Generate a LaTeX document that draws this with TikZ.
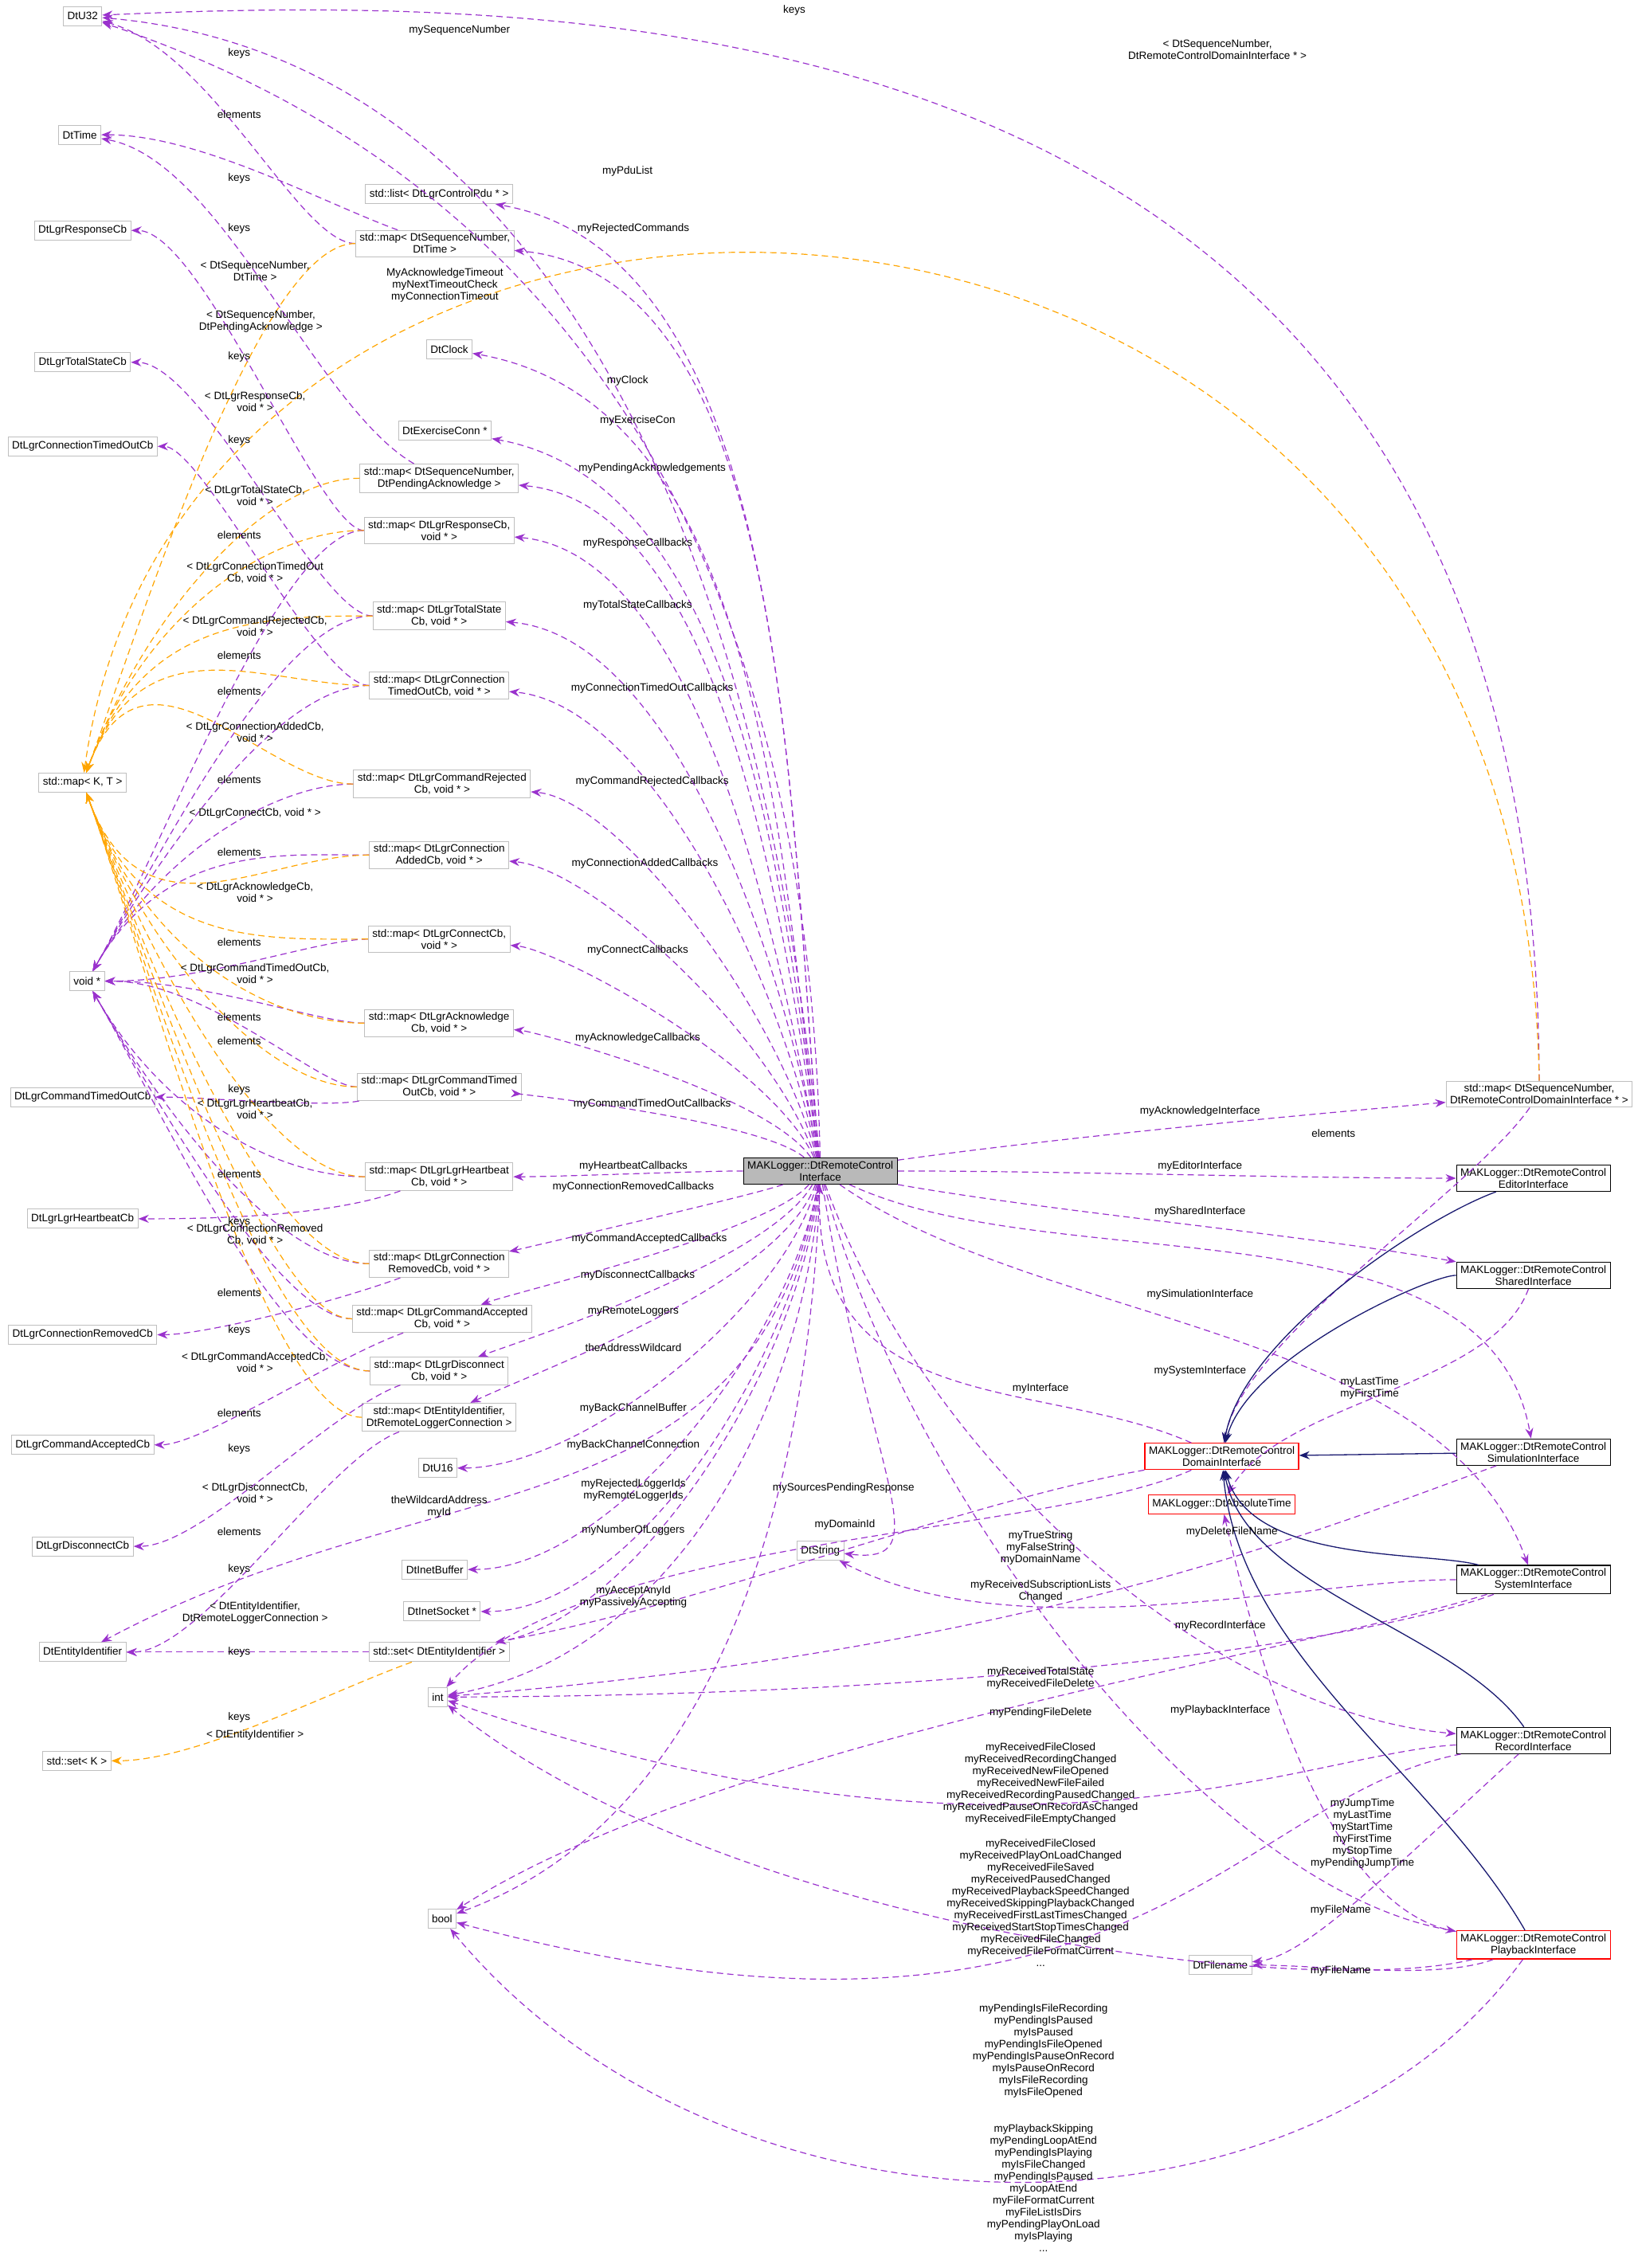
\documentclass[tikz,border=0pt]{standalone}
\usepackage{fontspec}
\setmainfont{Liberation Sans}
\usetikzlibrary{arrows.meta}
\definecolor{pur}{HTML}{9A32CD}
\definecolor{org}{HTML}{FFA500}
\definecolor{nav}{HTML}{191970}
\definecolor{bx}{HTML}{BFBFBF}
\begin{document}
\begin{tikzpicture}[x=1.82pt,y=-1.82pt,
  every node/.style={font=\fontsize{13.5}{15}\selectfont},
  box/.style={draw=bx,line width=1pt,fill=white,align=center,inner xsep=5pt,inner ysep=4pt,minimum height=24pt},
  bbox/.style={box,draw=black,line width=1.3pt},
  rbox/.style={box,draw=red,line width=1.3pt},
  lab/.style={align=center,inner sep=0pt},
  ct/.style n args={3}{to path={.. controls ([shift={(#1:#3pt)}]\tikztostart) and ([shift={(#2:#3pt)}]\tikztotarget) .. (\tikztotarget)}},
  dep/.style={draw=pur,dashed,dash pattern=on 8pt off 5pt,line width=1.2pt,-{Stealth[length=13pt,width=10pt]}},
  tmpl/.style={draw=org,dashed,dash pattern=on 8pt off 5pt,line width=1.2pt,-{Stealth[length=13pt,width=10pt]}},
  inh/.style={draw=nav,line width=1.3pt,-{Stealth[length=13pt,width=10pt]}}]
\useasboundingbox (0,0) rectangle (1130,1565);
% left column
\node[box] (U32) at (57,11) {DtU32};
\node[box] (Time) at (55,93) {DtTime};
\node[box] (RespCb) at (57,159) {DtLgrResponseCb};
\node[box] (TotCb) at (57,250) {DtLgrTotalStateCb};
\node[box] (CTOCb) at (57,308) {DtLgrConnectionTimedOutCb};
\node[box] (KT) at (57,540) {std::map< K, T >};
\node[box] (void) at (60,677) {void *};
\node[box] (CmdTOCb) at (57,757) {DtLgrCommandTimedOutCb};
\node[box] (HBCb) at (57,841) {DtLgrLgrHeartbeatCb};
\node[box] (CRemCb) at (57,921) {DtLgrConnectionRemovedCb};
\node[box] (CAccCb) at (57,997) {DtLgrCommandAcceptedCb};
\node[box] (DiscCb) at (57,1067) {DtLgrDisconnectCb};
\node[box] (EId) at (57,1140) {DtEntityIdentifier};
\node[box] (SetK) at (53,1215) {std::set< K >};
% middle column
\node[box] (list) at (303,134) {std::list< DtLgrControlPdu * >};
\node[box] (mST) at (300,168) {std::map< DtSequenceNumber,\\DtTime >};
\node[box] (Clock) at (310,241) {DtClock};
\node[box] (Exc) at (307,297) {DtExerciseConn *};
\node[box] (mPA) at (303,330) {std::map< DtSequenceNumber,\\DtPendingAcknowledge >};
\node[box] (mResp) at (303,366) {std::map< DtLgrResponseCb,\\void * >};
\node[box] (mTot) at (303,425) {std::map< DtLgrTotalState\\Cb, void * >};
\node[box] (mCTO) at (303,473) {std::map< DtLgrConnection\\TimedOutCb, void * >};
\node[box] (mRej) at (305,541) {std::map< DtLgrCommandRejected\\Cb, void * >};
\node[box] (mAdd) at (303,590) {std::map< DtLgrConnection\\AddedCb, void * >};
\node[box] (mConn) at (303,648) {std::map< DtLgrConnectCb,\\void * >};
\node[box] (mAck) at (303,706) {std::map< DtLgrAcknowledge\\Cb, void * >};
\node[box] (mCmdTO) at (303,750) {std::map< DtLgrCommandTimed\\OutCb, void * >};
\node[box] (mHB) at (303,812) {std::map< DtLgrLgrHeartbeat\\Cb, void * >};
\node[box] (mRem) at (303,872) {std::map< DtLgrConnection\\RemovedCb, void * >};
\node[box] (mAcc) at (305,910) {std::map< DtLgrCommandAccepted\\Cb, void * >};
\node[box] (mDisc) at (303,946) {std::map< DtLgrDisconnect\\Cb, void * >};
\node[box] (mEId) at (303,978) {std::map< DtEntityIdentifier,\\DtRemoteLoggerConnection >};
\node[box] (U16) at (302,1013) {DtU16};
\node[box] (Buf) at (300,1083) {DtInetBuffer};
\node[box] (Sock) at (305,1112) {DtInetSocket *};
\node[box] (sEId) at (303,1140) {std::set< DtEntityIdentifier >};
\node[box] (int) at (302,1171) {int};
\node[box] (bool) at (305,1324) {bool};
\node[box] (Str) at (566,1070) {DtString};
\node[box] (Fn) at (842,1356) {DtFilename};
% center/right
\node[box,draw=black,fill=gray!55,line width=1.3pt] (I) at (566,808) {MAKLogger::DtRemoteControl\\Interface};
\node[box] (mSD) at (1062,755) {std::map< DtSequenceNumber,\\DtRemoteControlDomainInterface * >};
\node[bbox] (Ed) at (1058,813) {MAKLogger::DtRemoteControl\\EditorInterface};
\node[bbox] (Sh) at (1058,880) {MAKLogger::DtRemoteControl\\SharedInterface};
\node[bbox] (Sim) at (1058,1002) {MAKLogger::DtRemoteControl\\SimulationInterface};
\node[bbox] (Sys) at (1058,1090) {MAKLogger::DtRemoteControl\\SystemInterface};
\node[bbox] (Rec) at (1058,1201) {MAKLogger::DtRemoteControl\\RecordInterface};
\node[rbox] (Pb) at (1058,1342) {MAKLogger::DtRemoteControl\\PlaybackInterface};
\node[rbox] (Dom) at (843,1005) {MAKLogger::DtRemoteControl\\DomainInterface};
\node[rbox] (Abs) at (843,1038) {MAKLogger::DtAbsoluteTime};

% --- edges from I to middle column
\draw[dep] (I) to[ct={95}{-5}{650}] (U32);
\draw[dep] (I) .. controls (560,500) and (470,150) .. (U32);
\draw[dep] (I) to[ct={95}{-10}{450}] (list);
\draw[dep] (I) to[ct={95}{-5}{450}] (mST);
\draw[dep] (I) to[ct={97}{-10}{400}] (Clock);
\draw[dep] (I) to[ct={97}{-10}{370}] (Exc);
\draw[dep] (I) to[ct={98}{-5}{350}] (mPA);
\draw[dep] (I) to[ct={100}{-5}{320}] (mResp);
\draw[dep] (I) to[ct={100}{-5}{290}] (mTot);
\draw[dep] (I) to[ct={102}{-5}{260}] (mCTO);
\draw[dep] (I) to[ct={105}{-5}{220}] (mRej);
\draw[dep] (I) to[ct={110}{-5}{190}] (mAdd);
\draw[dep] (I) to[ct={115}{-5}{150}] (mConn);
\draw[dep] (I) to[ct={125}{-5}{120}] (mAck);
\draw[dep] (I) to[ct={140}{-5}{100}] (mCmdTO);
\draw[dep] (I) to[ct={180}{0}{150}] (mHB);
\draw[dep] (I) to[ct={200}{10}{90}] (mRem);
\draw[dep] (I) to[ct={230}{20}{100}] (mAcc);
\draw[dep] (I) to[ct={240}{20}{130}] (mDisc);
\draw[dep] (I) to[ct={250}{25}{150}] (mEId);
\draw[dep] (I) to[ct={255}{0}{180}] (U16);
\draw[dep] (I) to[ct={260}{0}{220}] (Buf);
\draw[dep] (I) to[ct={262}{0}{240}] (Sock);
\draw[dep] (I) to[ct={264}{10}{250}] (sEId);
\draw[dep] (I) to[ct={266}{10}{300}] (int);
\draw[dep] (I) to[ct={268}{20}{380}] (bool);
\draw[dep] (I) .. controls (520,1060) and (300,1010) .. (EId);
\draw[dep] (I) .. controls (600,1020) and (650,1080) .. (Str);
\draw[dep] (Dom) .. controls (720,950) and (560,980) .. (I);
% --- right side
\draw[dep] (I) to[ct={8}{185}{300}] (mSD);
\draw[dep] (I) to[ct={0}{180}{300}] (Ed);
\draw[dep] (I) to[ct={-10}{170}{300}] (Sh);
\draw[dep] (I) to[ct={-25}{100}{330}] (Sim);
\draw[dep] (I) to[ct={-35}{110}{340}] (Sys);
\draw[dep] (I) to[ct={-70}{175}{400}] (Rec);
\draw[dep] (I) to[ct={-75}{170}{420}] (Pb);
\draw[dep] (mSD) to[ct={235}{80}{150}] (Dom);
\draw[dep] (mSD.north) .. controls (1060,0) and (420,-5) .. (U32);
\draw[tmpl] (mSD.north) .. controls (1050,30) and (130,20) .. (KT);
\draw[dep] (Sh) to[ct={250}{60}{150}] (Abs);
\draw[dep] (Pb) .. controls (930,1320) and (880,1200) .. (Abs);
\draw[dep] (Dom) to[ct={190}{10}{330}] (sEId);
\draw[dep] (Dom) .. controls (720,1060) and (400,1060) .. (int);
\draw[dep] (Sim) .. controls (900,1060) and (700,1140) .. (int);
\draw[dep] (Sys) .. controls (900,1090) and (700,1140) .. (Str);
\draw[dep] (Sys) .. controls (950,1130) and (700,1170) .. (int);
\draw[dep] (Sys) .. controls (900,1140) and (500,1200) .. (bool);
\draw[dep] (Rec) .. controls (900,1210) and (700,1310) .. (int);
\draw[dep] (Pb) .. controls (900,1380) and (500,1330) .. (int);
\draw[dep] (Rec) .. controls (850,1240) and (780,1450) .. (bool);
\draw[dep] (Pb) .. controls (900,1560) and (500,1560) .. (bool);
\draw[dep] (Rec) .. controls (950,1300) and (900,1350) .. (Fn);
\draw[dep] (Pb) to[ct={200}{0}{130}] (Fn);
% inheritance
\draw[inh] (Ed) to[ct={200}{80}{150}] (Dom);
\draw[inh] (Sh) to[ct={180}{75}{130}] (Dom);
\draw[inh] (Sim) -- (Dom);
\draw[inh] (Sys) to[ct={165}{-75}{140}] (Dom);
\draw[inh] (Rec) to[ct={125}{-80}{170}] (Dom);
\draw[inh] (Pb) to[ct={120}{-85}{250}] (Dom);
% --- middle maps to left column
\draw[dep] (mST) to[ct={180}{-15}{170}] (U32);
\draw[dep] (mST) to[ct={160}{0}{150}] (Time);
\draw[dep] (mPA) to[ct={150}{-10}{180}] (Time);
\draw[dep] (mResp) to[ct={180}{0}{150}] (RespCb);
\draw[dep] (mTot) to[ct={180}{0}{150}] (TotCb);
\draw[dep] (mCTO) to[ct={180}{0}{150}] (CTOCb);
\foreach \m in {mResp,mTot,mCTO,mRej,mAdd}{\draw[dep] (\m) to[ct={180}{60}{200}] (void);}
\foreach \m in {mConn,mAck,mCmdTO}{\draw[dep] (\m) to[ct={180}{0}{150}] (void);}
\foreach \m in {mHB,mRem,mAcc,mDisc}{\draw[dep] (\m) to[ct={180}{-60}{200}] (void);}
\draw[dep] (mCmdTO) to[ct={190}{0}{150}] (CmdTOCb);
\draw[dep] (mHB) to[ct={200}{0}{150}] (HBCb);
\draw[dep] (mRem) to[ct={200}{0}{150}] (CRemCb);
\draw[dep] (mAcc) to[ct={200}{0}{150}] (CAccCb);
\draw[dep] (mDisc) to[ct={200}{0}{150}] (DiscCb);
\draw[dep] (mEId) to[ct={200}{0}{150}] (EId);
\draw[dep] (sEId) to[ct={180}{0}{150}] (EId);
\foreach \m in {mST,mPA,mResp,mTot,mCTO,mRej}{\draw[tmpl] (\m) to[ct={180}{70}{220}] (KT);}
\foreach \m in {mAdd,mConn,mAck,mCmdTO,mHB,mRem,mAcc,mDisc,mEId}{\draw[tmpl] (\m) to[ct={180}{-70}{220}] (KT);}
\draw[tmpl] (sEId) to[ct={200}{0}{150}] (SetK);

% --- labels
\node[lab] at (548,7) {keys};
\node[lab] at (317,21) {mySequenceNumber};
\node[lab] at (840,34) {< DtSequenceNumber,\\DtRemoteControlDomainInterface * >};
\node[lab] at (165,37) {keys};
\node[lab] at (165,79) {elements};
\node[lab] at (165,123) {keys};
\node[lab] at (433,118) {myPduList};
\node[lab] at (437,158) {myRejectedCommands};
\node[lab] at (165,158) {keys};
\node[lab] at (176,187) {< DtSequenceNumber,\\DtTime >};
\node[lab] at (307,197) {MyAcknowledgeTimeout\\myNextTimeoutCheck\\myConnectionTimeout};
\node[lab] at (180,222) {< DtSequenceNumber,\\DtPendingAcknowledge >};
\node[lab] at (165,246) {keys};
\node[lab] at (433,263) {myClock};
\node[lab] at (176,277) {< DtLgrResponseCb,\\void * >};
\node[lab] at (440,290) {myExerciseCon};
\node[lab] at (165,304) {keys};
\node[lab] at (450,323) {myPendingAcknowledgements};
\node[lab] at (176,342) {< DtLgrTotalStateCb,\\void * >};
\node[lab] at (165,369) {elements};
\node[lab] at (440,375) {myResponseCallbacks};
\node[lab] at (176,395) {< DtLgrConnectionTimedOut\\Cb, void * >};
\node[lab] at (440,418) {myTotalStateCallbacks};
\node[lab] at (176,432) {< DtLgrCommandRejectedCb,\\void * >};
\node[lab] at (165,452) {elements};
\node[lab] at (450,475) {myConnectionTimedOutCallbacks};
\node[lab] at (165,477) {elements};
\node[lab] at (176,505) {< DtLgrConnectionAddedCb,\\void * >};
\node[lab] at (450,539) {myCommandRejectedCallbacks};
\node[lab] at (165,538) {elements};
\node[lab] at (176,561) {< DtLgrConnectCb, void * >};
\node[lab] at (165,588) {elements};
\node[lab] at (445,596) {myConnectionAddedCallbacks};
\node[lab] at (176,616) {< DtLgrAcknowledgeCb,\\void * >};
\node[lab] at (165,650) {elements};
\node[lab] at (440,656) {myConnectCallbacks};
\node[lab] at (176,672) {< DtLgrCommandTimedOutCb,\\void * >};
\node[lab] at (165,702) {elements};
\node[lab] at (440,716) {myAcknowledgeCallbacks};
\node[lab] at (165,718) {elements};
\node[lab] at (165,752) {keys};
\node[lab] at (450,762) {myCommandTimedOutCallbacks};
\node[lab] at (176,765) {< DtLgrLgrHeartbeatCb,\\void * >};
\node[lab] at (437,805) {myHeartbeatCallbacks};
\node[lab] at (165,810) {elements};
\node[lab] at (437,819) {myConnectionRemovedCallbacks};
\node[lab] at (165,843) {keys};
\node[lab] at (176,852) {< DtLgrConnectionRemoved\\Cb, void * >};
\node[lab] at (448,855) {myCommandAcceptedCallbacks};
\node[lab] at (440,880) {myDisconnectCallbacks};
\node[lab] at (165,892) {elements};
\node[lab] at (437,905) {myRemoteLoggers};
\node[lab] at (165,918) {keys};
\node[lab] at (437,930) {theAddressWildcard};
\node[lab] at (176,940) {< DtLgrCommandAcceptedCb,\\void * >};
\node[lab] at (437,972) {myBackChannelBuffer};
\node[lab] at (165,975) {elements};
\node[lab] at (437,997) {myBackChannelConnection};
\node[lab] at (165,1000) {keys};
\node[lab] at (176,1030) {< DtLgrDisconnectCb,\\void * >};
\node[lab] at (437,1028) {myRejectedLoggerIds\\myRemoteLoggerIds};
\node[lab] at (303,1040) {theWildcardAddress\\myId};
\node[lab] at (165,1057) {elements};
\node[lab] at (437,1056) {myNumberOfLoggers};
\node[lab] at (165,1083) {keys};
\node[lab] at (437,1102) {myAcceptAnyId\\myPassivelyAccepting};
\node[lab] at (176,1113) {< DtEntityIdentifier,\\DtRemoteLoggerConnection >};
\node[lab] at (165,1140) {keys};
\node[lab] at (165,1185) {keys};
\node[lab] at (176,1197) {< DtEntityIdentifier >};
% right labels
\node[lab] at (828,767) {myAcknowledgeInterface};
\node[lab] at (920,782) {elements};
\node[lab] at (828,805) {myEditorInterface};
\node[lab] at (828,836) {mySharedInterface};
\node[lab] at (828,893) {mySimulationInterface};
\node[lab] at (828,946) {mySystemInterface};
\node[lab] at (718,958) {myInterface};
\node[lab] at (945,958) {myLastTime\\myFirstTime};
\node[lab] at (582,1027) {mySourcesPendingResponse};
\node[lab] at (583,1052) {myDomainId};
\node[lab] at (718,1068) {myTrueString\\myFalseString\\myDomainName};
\node[lab] at (850,1057) {myDeleteFileName};
\node[lab] at (718,1098) {myReceivedSubscriptionLists\\Changed};
\node[lab] at (842,1122) {myRecordInterface};
\node[lab] at (718,1158) {myReceivedTotalState\\myReceivedFileDelete};
\node[lab] at (718,1182) {myPendingFileDelete};
\node[lab] at (842,1180) {myPlaybackInterface};
\node[lab] at (718,1231) {myReceivedFileClosed\\myReceivedRecordingChanged\\myReceivedNewFileOpened\\myReceivedNewFileFailed\\myReceivedRecordingPausedChanged\\myReceivedPauseOnRecordAsChanged\\myReceivedFileEmptyChanged};
\node[lab] at (718,1313) {myReceivedFileClosed\\myReceivedPlayOnLoadChanged\\myReceivedFileSaved\\myReceivedPausedChanged\\myReceivedPlaybackSpeedChanged\\myReceivedSkippingPlaybackChanged\\myReceivedFirstLastTimesChanged\\myReceivedStartStopTimesChanged\\myReceivedFileChanged\\myReceivedFileFormatCurrent\\...};
\node[lab] at (940,1265) {myJumpTime\\myLastTime\\myStartTime\\myFirstTime\\myStopTime\\myPendingJumpTime};
\node[lab] at (925,1318) {myFileName};
\node[lab] at (925,1360) {myFileName};
\node[lab] at (720,1415) {myPendingIsFileRecording\\myPendingIsPaused\\myIsPaused\\myPendingIsFileOpened\\myPendingIsPauseOnRecord\\myIsPauseOnRecord\\myIsFileRecording\\myIsFileOpened};
\node[lab] at (720,1510) {myPlaybackSkipping\\myPendingLoopAtEnd\\myPendingIsPlaying\\myIsFileChanged\\myPendingIsPaused\\myLoopAtEnd\\myFileFormatCurrent\\myFileListIsDirs\\myPendingPlayOnLoad\\myIsPlaying\\...};
\end{tikzpicture}
\end{document}
